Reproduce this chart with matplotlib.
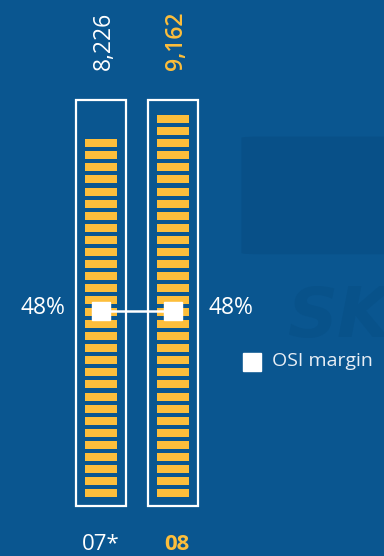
import numpy as np
from matplotlib import pyplot as plt
from matplotlib.patches import Rectangle, FancyBboxPatch

plt.rcParams['font.family'] = ['Open Sans', 'DejaVu Sans']

years = ['07*', '08']
volumes = ['8,226', '9,162']
blocks = [30, 32]          # yellow stripes counted in each column
osi_margin = [48, 48]      # %
year_colors = ['white', '#fdbe3b']
year_weights = ['normal', 'bold']

bg = '#0a5690'
yellow = '#fdbe3b'

fig = plt.figure(figsize=(3.84, 5.56), dpi=100)
fig.patch.set_facecolor(bg)
ax = fig.add_axes([0, 0, 1, 1])
ax.set_facecolor(bg)
ax.set_xlim(-101 / 72, 283 / 72)
ax.set_ylim(-50 / 4.06, 506 / 4.06)
ax.axis('off')

# faint background imagery
ax.add_patch(FancyBboxPatch((1.95, 62), 2.2, 29, boxstyle='round,pad=0,rounding_size=0.3',
                            facecolor='#085088', edgecolor='none', zorder=0))
ax.text(2.6, 46.5, 'SKF', fontsize=50, fontweight='bold', style='italic',
        color='#08528a', ha='left', va='center', zorder=0, family='DejaVu Sans')

x = np.arange(len(years))
box_w = 0.7
pitch = 2.97
stripe_h = 1.97
base = 2.22

for i in range(len(years)):
    ax.add_patch(Rectangle((x[i] - box_w / 2, 0), box_w, 100, facecolor='none',
                           edgecolor='white', lw=1.6, zorder=2))
    bottoms = base + pitch * np.arange(blocks[i])
    ax.bar(np.full(blocks[i], x[i]), stripe_h, 0.455, bottom=bottoms,
           color=yellow, zorder=3)
    ax.text(x[i] + 0.04, 107.5, volumes[i], rotation=90, ha='center', va='bottom',
            fontsize=16.5, color=year_colors[i], fontweight='normal' if i == 0 else 'semibold')
    ax.text(x[i] + (0 if i == 0 else 0.06), -9.6, years[i], ha='center', va='center',
            fontsize=16, color=year_colors[i], fontweight=year_weights[i])

# OSI margin markers
ax.plot(x, osi_margin, color='white', lw=1.8, zorder=4)
ax.plot(x, osi_margin, 's', color='white', markersize=12.5, zorder=5)
ax.text(x[0] - 0.5, osi_margin[0] + 0.7, f'{osi_margin[0]}%', ha='right', va='center',
        fontsize=16.5, color='white')
ax.text(x[1] + 0.49, osi_margin[1] + 0.7, f'{osi_margin[1]}%', ha='left', va='center',
        fontsize=16.5, color='white')

# legend
ax.plot([2.097], [35.5], 's', color='white', markersize=12.5, zorder=5)
ax.text(2.375, 35.8, 'OSI margin', ha='left', va='center', fontsize=14, color='#e8eef5')

plt.savefig('out.png', dpi=100, facecolor=bg)
